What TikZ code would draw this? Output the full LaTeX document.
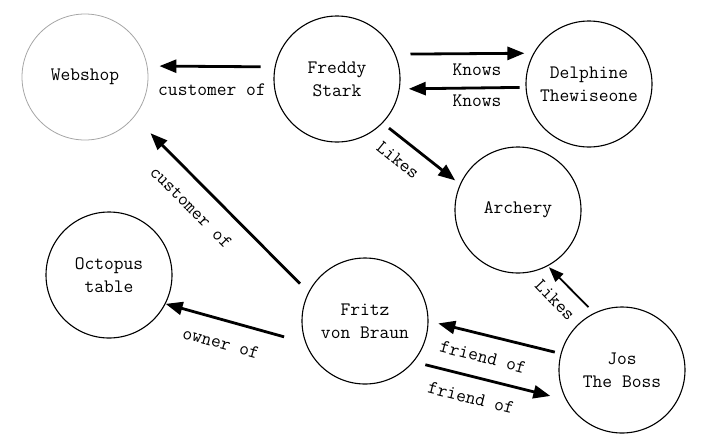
\documentclass[tikz,border=0pt]{standalone}
\usetikzlibrary{arrows.meta}
\newcommand\diagfont{\ttfamily\fontsize{19}{23}\selectfont}
\begin{document}
\begin{tikzpicture}[x=1pt,y=-1pt,
  ent/.style={circle, draw=black, line width=1.1pt, minimum size=126pt, inner sep=0pt, align=center, font=\diagfont},
  rel/.style={-{Triangle[length=17pt,width=13pt]}, line width=2.8pt},
  relthin/.style={-{Triangle[length=15pt,width=11pt]}, line width=1.8pt},
  lbl/.style={font=\diagfont, inner sep=0pt}]
\useasboundingbox (0,0) rectangle (702,440);
\node[ent, draw=black!35, line width=0.8pt] (web) at (85,77) {Webshop};
\node[ent] (fred) at (337,79) {Freddy\\Stark};
\node[ent] (del) at (589,84) {Delphine\\Thewiseone};
\node[ent] (arch) at (518,210) {Archery};
\node[ent] (oct) at (109,275) {Octopus\\table};
\node[ent] (fritz) at (365,321) {Fritz\\von Braun};
\node[ent] (jos) at (622,370) {Jos\\The Boss};

\draw[rel, shorten <=14pt, shorten >=12pt] (fred.169) -- (web.10);
\draw[rel, shorten <=15pt, shorten >=9pt] (fred.23.4) -- (del.151.6);
\draw[rel, shorten <=6pt, shorten >=9pt] (del.183.6) -- (fred.351.8);
\draw[rel, shorten <=8pt, shorten >=6pt] (fred.-44) -- (arch.156);
\draw[rel, shorten <=12pt, shorten >=23pt] (fritz.153.3) -- (web.-39.9);
\draw[rel, shorten <=22pt, shorten >=0pt] (fritz.200.5) -- (oct.-27.4);
\draw[rel, shorten <=6pt, shorten >=10pt] (jos.165.8) -- (fritz.0.5);
\draw[rel, shorten <=12pt, shorten >=16pt] (fritz.-40.6) -- (jos.208.2);
\draw[relthin, shorten <=8pt, shorten >=1.5pt] (jos.116.8) -- (arch.-62.6);

\node[lbl] (l1) at (212,90) {customer of};
\node[lbl] (l2) at (477,70) {Knows};
\node[lbl] (l3) at (477,101) {Knows};
\node[lbl, rotate=-39] (l4) at (398,160) {Likes};
\node[lbl, rotate=-45] (l5) at (191,207) {customer of};
\node[lbl, rotate=-15.5] (l6) at (221,343) {owner of};
\node[lbl, rotate=-14.4] (l7) at (483,357) {friend of};
\node[lbl, rotate=-14] (l8) at (471,398) {friend of};
\node[lbl, rotate=-46] (l9) at (555,300) {Likes};
\end{tikzpicture}
\end{document}
